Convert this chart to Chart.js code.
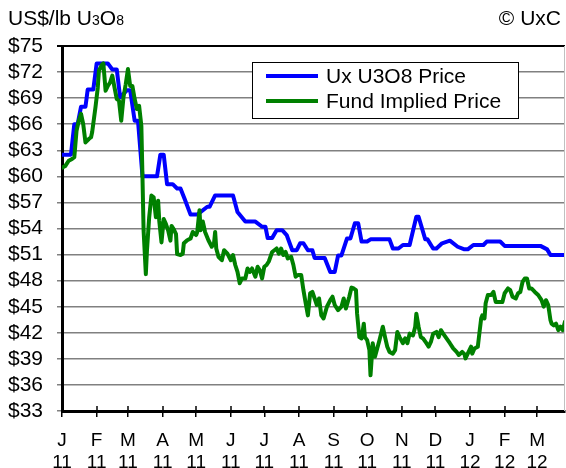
<!DOCTYPE html>
<html>
<head>
<meta charset="utf-8">
<script src="https://cdn.jsdelivr.net/npm/chart.js@4.4.0/dist/chart.umd.min.js"></script>
<style>
  html, body { margin: 0; padding: 0; background: #fff; }
  #wrap { position: relative; width: 566px; height: 468px; }
  .lbl { position: absolute; font-family: 'Liberation Sans', Arial, sans-serif; font-size: 21px; line-height: 24px; color: #000; white-space: nowrap; }
  .lbl small { font-size: 14px; }
</style>
</head>
<body>
<div id="wrap">
  <canvas id="chart" width="566" height="468"></canvas>
  <div class="lbl" style="left:8px; top:6px">US$/lb U<small>3</small>O<small>8</small></div>
  <div class="lbl" style="right:5px; top:6px">© UxC</div>
</div>
<script>
// x values are days since 1 Jan 2011
const tickDays = [0, 31, 59, 90, 120, 151, 181, 212, 243, 273, 304, 334, 365, 396, 425]
const tickMonths = ['J', 'F', 'M', 'A', 'M', 'J', 'J', 'A', 'S', 'O', 'N', 'D', 'J', 'F', 'M']
const tickYears = ['11', '11', '11', '11', '11', '11', '11', '11', '11', '11', '11', '11', '12', '12', '12']

// Ux U3O8 spot price (weekly, drawn as steps)
const uxDays = [0, 8, 11, 14, 17, 21, 23, 28, 31, 41, 45, 49, 52, 58, 61, 65, 68, 72, 85, 88, 91, 94, 99, 103, 106, 110, 115, 121,
  130, 132, 137, 153, 157, 164, 173, 179, 182, 184, 188, 192, 197, 201, 206, 210, 213, 216, 220, 224, 226, 235, 240, 244, 247, 250,
  255, 258, 262, 265, 268, 273, 276, 293, 296, 301, 305, 311, 317, 319, 325, 327, 332, 335, 340, 347, 354, 360, 363, 368, 377, 380,
  392, 396, 428, 434, 437, 451]
const uxPrice = [62.5, 62.5, 66.0, 66.0, 68.0, 68.0, 70.0, 70.0, 73.0, 73.0, 72.3, 72.3, 69.1, 69.9, 69.9, 66.4, 66.4, 60.0, 60.0, 62.5,
  62.5, 59.1, 59.1, 58.6, 58.6, 57.3, 55.6, 55.6, 56.5, 56.5, 57.8, 57.8, 55.9, 54.8, 54.8, 54.2, 54.2, 52.9, 52.9, 53.8, 53.8, 53.25,
  51.5, 51.5, 52.3, 52.3, 51.5, 51.5, 50.6, 50.6, 49.0, 49.0, 50.9, 50.9, 52.85, 52.85, 54.6, 54.6, 52.5, 52.5, 52.75, 52.75, 51.7,
  51.7, 52.1, 52.1, 55.35, 55.35, 52.75, 52.75, 51.7, 51.7, 52.3, 52.6, 51.9, 51.6, 51.6, 52.1, 52.1, 52.5, 52.5, 52.0, 52.0, 51.6,
  50.95, 50.95]

// fund implied price (daily)
const fundDays = [0, 3, 6, 9, 11, 13, 15, 17, 19, 21, 24, 26, 27, 30, 32, 33, 36, 37, 39, 41, 43, 45, 47, 49, 51, 53, 55, 57, 59, 61,
  63, 65, 67, 69, 71, 72, 73, 75, 76, 78, 80, 82, 84, 86, 87, 89, 91, 93, 95, 97, 98, 100, 102, 103, 106, 108, 109, 112, 115, 117,
  120, 121, 123, 124, 126, 128, 131, 134, 136, 137, 138, 140, 143, 145, 148, 151, 153, 155, 157, 159, 161, 164, 166, 168, 170, 173,
  175, 177, 179, 181, 183, 185, 188, 190, 192, 194, 196, 198, 200, 202, 205, 207, 209, 211, 214, 216, 218, 220, 222, 224, 228, 230,
  232, 234, 237, 240, 242, 244, 247, 250, 252, 254, 257, 259, 261, 263, 264, 266, 268, 270, 271, 273, 275, 276, 278, 280, 282, 284,
  287, 289, 291, 293, 296, 298, 300, 302, 305, 307, 309, 311, 314, 316, 317, 319, 321, 323, 326, 328, 330, 332, 335, 337, 339, 341,
  344, 347, 350, 353, 355, 358, 360, 361, 363, 366, 367, 369, 372, 373, 375, 376, 378, 379, 381, 384, 386, 388, 391, 394, 396, 399,
  401, 403, 406, 408, 410, 412, 414, 416, 418, 420, 423, 426, 429, 431, 433, 435, 437, 438, 440, 442, 444, 446, 448, 450]
const fundPrice = [61.0, 61.2, 61.8, 62.0, 62.2, 65.25, 66.4, 67.2, 66.0, 63.9, 64.3, 64.5, 65.1, 68.0, 70.2, 72.15, 72.9, 73.0, 69.85,
  70.4, 70.8, 71.6, 70.2, 68.9, 68.7, 66.4, 69.1, 70.6, 72.35, 70.4, 70.4, 68.9, 67.75, 68.1, 65.8, 59.9, 53.75, 48.75, 51.45, 55.3,
  57.8, 57.6, 55.3, 57.2, 54.9, 52.4, 55.1, 54.5, 53.75, 52.6, 54.3, 53.9, 53.35, 51.05, 50.95, 51.1, 52.3, 52.65, 52.85, 53.6, 53.25,
  53.6, 56.1, 53.8, 54.8, 53.6, 52.65, 51.9, 52.3, 53.6, 51.7, 50.75, 50.35, 51.5, 51.1, 50.35, 50.95, 49.8, 49.0, 47.7, 48.25, 48.25,
  49.4, 49.0, 49.4, 48.45, 49.6, 49.2, 48.25, 49.6, 49.8, 50.2, 51.3, 51.5, 51.7, 51.1, 51.7, 50.95, 51.3, 50.55, 50.75, 49.8, 48.45,
  48.65, 48.65, 46.9, 45.4, 44.0, 46.55, 46.7, 45.2, 45.95, 44.0, 43.65, 45.0, 45.75, 46.15, 45.2, 44.6, 45.0, 45.95, 44.8, 46.15,
  47.2, 47.1, 46.9, 44.2, 41.5, 41.35, 43.05, 41.5, 41.15, 40.0, 37.1, 40.8, 39.25, 40.2, 41.15, 42.7, 41.5, 40.4, 39.8, 39.6, 40.0,
  42.1, 41.5, 40.8, 41.35, 40.8, 41.9, 41.7, 42.7, 44.2, 42.7, 41.5, 41.35, 40.8, 40.4, 40.95, 41.9, 42.1, 41.5, 42.3, 41.9, 41.35,
  40.8, 40.2, 39.8, 39.45, 39.8, 39.55, 39.05, 39.6, 40.4, 39.6, 40.2, 40.4, 41.5, 43.65, 44.0, 43.65, 45.4, 46.35, 46.35, 46.7,
  45.55, 45.55, 45.55, 46.55, 47.1, 46.9, 46.15, 45.95, 46.55, 46.7, 47.85, 48.25, 48.25, 47.1, 47.1, 46.7, 46.35, 45.75, 45.0,
  45.75, 45.2, 43.45, 43.05, 42.85, 43.05, 42.3, 42.7, 42.3, 43.3]

const FONT = "'Liberation Sans', Arial, sans-serif"

// legend in a framed box inside the plot, plus the plot frame details
const framePlugin = {
  id: 'frame',
  afterDatasetsDraw(chart) {
    const { ctx, chartArea: a, scales: { x } } = chart
    ctx.save()
    // right border
    ctx.strokeStyle = '#c0c0c0'
    ctx.lineWidth = 1
    ctx.beginPath()
    ctx.moveTo(a.right - 0.5, a.top)
    ctx.lineTo(a.right - 0.5, a.bottom)
    ctx.stroke()
    // tick marks crossing into the plot
    ctx.strokeStyle = '#000'
    ctx.lineWidth = 1.5
    tickDays.forEach(d => {
      const px = Math.round(x.getPixelForValue(d))
      ctx.beginPath()
      ctx.moveTo(px, a.bottom - 5)
      ctx.lineTo(px, a.bottom)
      ctx.stroke()
    })
    // legend
    const bx = 252, by = 62, bw = 266, bh = 56
    ctx.fillStyle = '#fff'
    ctx.fillRect(bx, by, bw, bh)
    ctx.strokeStyle = '#000'
    ctx.lineWidth = 1
    ctx.strokeRect(bx + 0.5, by + 0.5, bw, bh)
    ctx.font = '21px ' + FONT
    ctx.textBaseline = 'middle'
    ctx.fillStyle = '#000'
    const rows = [chart.data.datasets[1], chart.data.datasets[0]]
    rows.forEach((ds, i) => {
      const y = by + 14 + i * 25
      ctx.strokeStyle = ds.borderColor
      ctx.lineWidth = 4
      ctx.beginPath()
      ctx.moveTo(bx + 14, y)
      ctx.lineTo(bx + 66, y)
      ctx.stroke()
      ctx.fillText(ds.label, bx + 74, y + 1)
    })
    ctx.restore()
  }
}

new Chart(document.getElementById('chart'), {
  type: 'line',
  data: {
    datasets: [
      {
        label: 'Fund Implied Price',
        data: fundDays.map((d, i) => ({ x: d, y: fundPrice[i] })),
        borderColor: '#008000',
        borderWidth: 4,
        order: 0,
      },
      {
        label: 'Ux U3O8 Price',
        data: uxDays.map((d, i) => ({ x: d, y: uxPrice[i] })),
        borderColor: '#0000ff',
        borderWidth: 4,
        order: 1,
      },
    ],
  },
  options: {
    responsive: false,
    animation: false,
    devicePixelRatio: 1,
    layout: { padding: { top: 46, right: 1, left: 0, bottom: 0 } },
    elements: {
      point: { radius: 0 },
      line: { tension: 0, borderJoinStyle: 'round', borderCapStyle: 'round' },
    },
    plugins: { legend: { display: false }, tooltip: { enabled: false } },
    scales: {
      x: {
        type: 'linear',
        min: 0,
        max: 450,
        afterBuildTicks: s => { s.ticks = tickDays.map(v => ({ value: v })) },
        afterFit: s => { s.height = 57 },
        grid: { drawOnChartArea: false, color: '#000', lineWidth: 1.5, tickLength: 6 },
        border: { color: '#000', width: 3 },
        ticks: {
          autoSkip: false,
          maxRotation: 0,
          padding: 12,
          color: '#000',
          font: { family: FONT, size: 19, lineHeight: 1.2 },
          callback: v => {
            const i = tickDays.indexOf(v)
            return i < 0 ? '' : [tickMonths[i], tickYears[i]]
          },
        },
      },
      y: {
        min: 33,
        max: 75,
        afterFit: s => { s.width = 62 },
        grid: {
          color: c => (c.tick && c.tick.value === 75 ? '#000' : '#808080'),
          lineWidth: c => (c.tick && c.tick.value === 75 ? 2 : 1.5),
          tickLength: 5,
        },
        border: { color: '#000', width: 3 },
        ticks: {
          stepSize: 3,
          autoSkip: false,
          padding: 14,
          color: '#000',
          font: { family: FONT, size: 21 },
          callback: v => '$' + v,
        },
      },
    },
  },
  plugins: [framePlugin],
})
</script>
</body>
</html>
